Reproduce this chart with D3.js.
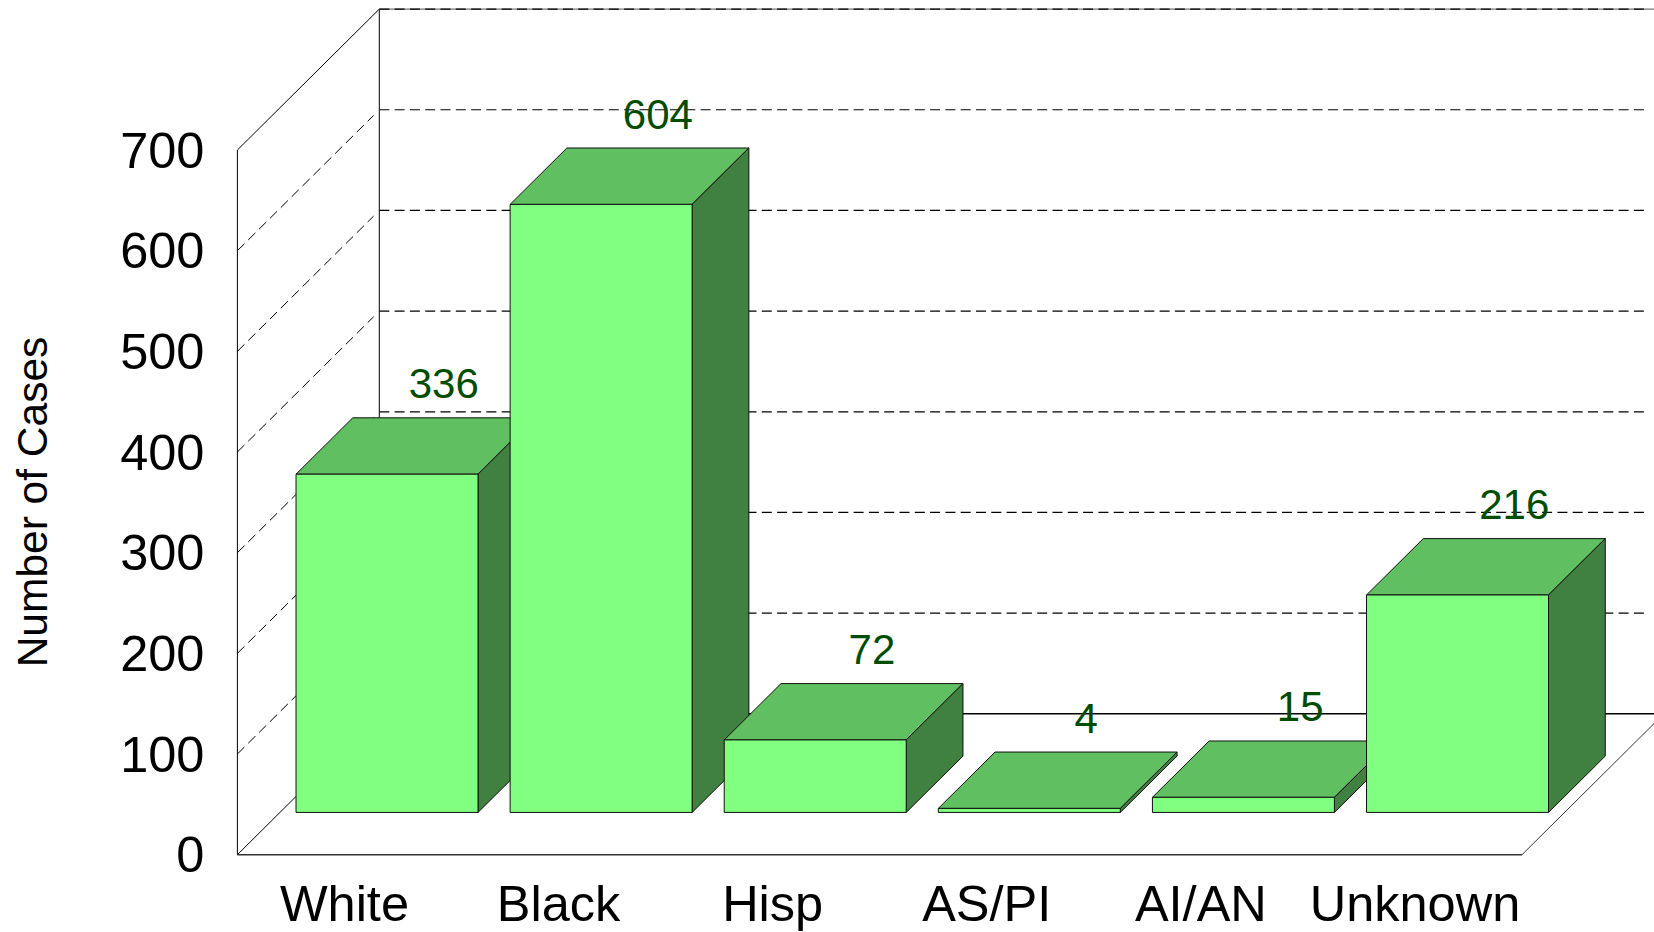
<!DOCTYPE html>
<html>
<head>
<meta charset="utf-8">
<title>Number of Cases</title>
<script src="https://cdn.jsdelivr.net/npm/d3@7"></script>
<style>
  body { margin: 0; background: #fff; }
  svg { display: block; }
  text { font-family: "Liberation Sans", Arial, sans-serif; }
</style>
</head>
<body>
<div id="chart"></div>
<script>
// chart data
var categories = ["White", "Black", "Hisp", "AS/PI", "AI/AN", "Unknown"];
var cases = [336, 604, 72, 4, 15, 216];
var yTicks = [0, 100, 200, 300, 400, 500, 600, 700];

var svgWidth = 1654;
var svgHeight = 932;

// front plane of the 3d box
var plotLeft = 237.4;
var plotRight = 1522;
var plotBottom = 854.7;
var plotTop = 150;

var svg = d3.select("#chart")
  .append("svg")
  .attr("width", svgWidth)
  .attr("height", svgHeight);

var xScale = d3.scaleBand()
  .domain(categories)
  .range([plotLeft, plotRight])
  .paddingInner(0.15)
  .paddingOuter(0.075);

var yScale = d3.scaleLinear()
  .domain([0, 700])
  .range([plotBottom, plotTop]);

// 0 = front of the floor, 1 = back wall
var depthX = d3.scaleLinear().domain([0, 1]).range([0, 141.9]);
var depthY = d3.scaleLinear().domain([0, 1]).range([0, 140.9]);

var barFront = 0.3;
var barBack = 0.7;

// screen position of a point given as pixel x, value y and depth
function project(x, value, depth) {
  return [x + depthX(depth), yScale(value) - depthY(depth)];
}

var line = d3.line();

//Walls and floor
var walls = svg.append("g").attr("fill", "none").attr("stroke", "#000");

walls.append("path")
  .attr("stroke-width", 1)
  .attr("d", line([project(plotLeft, 0, 0), project(plotLeft, 700, 0), project(plotLeft, 700, 1), project(plotLeft, 0, 1)]));

walls.append("path")
  .attr("stroke-width", 1)
  .attr("d", line([project(plotLeft, 0, 0), project(plotLeft, 0, 1)]));

walls.append("path")
  .attr("stroke-width", 1.4)
  .attr("stroke", "#333")
  .attr("d", line([project(plotLeft, 0, 0), project(plotRight, 0, 0)]));

walls.append("path")
  .attr("stroke-width", 0.8)
  .attr("d", line([project(plotRight, 0, 0), project(plotRight, 0, 1)]));

walls.append("path")
  .attr("stroke-width", 1.5)
  .attr("d", line([project(plotLeft, 0, 1), project(plotRight + 40, 0, 1)]));

// top of the back wall has a solid line under the dashes
walls.append("path")
  .attr("stroke-width", 1.2)
  .attr("stroke", "#777")
  .attr("d", line([project(plotLeft, 700, 1), project(plotRight + 40, 700, 1)]));

//Gridlines
var gridValues = yTicks.filter(d => d > 0);

svg.append("g").selectAll("path")
  .data(gridValues)
  .enter()
  .append("path")
  .attr("fill", "none")
  .attr("stroke", "#000")
  .attr("stroke-width", 1.2)
  .attr("stroke-dasharray", "10,5.3")
  .attr("d", d => line([project(plotLeft, d, 1), [1647, project(plotLeft, d, 1)[1]]]));

svg.append("g").selectAll("path")
  .data(gridValues.filter(d => d < 700))
  .enter()
  .append("path")
  .attr("fill", "none")
  .attr("stroke", "#000")
  .attr("stroke-width", 1)
  .attr("stroke-dasharray", "10,5.3")
  .attr("d", d => line([project(plotLeft, d, 0), project(plotLeft, d, 0.96)]));

//Bars, left to right so each one covers the one before
var bars = svg.append("g")
  .selectAll("g")
  .data(cases)
  .enter()
  .append("g")
  .attr("stroke", "#111")
  .attr("stroke-width", 1)
  .attr("stroke-linejoin", "round");

function barLeft(i) { return xScale(categories[i]); }
function barRight(i) { return xScale(categories[i]) + xScale.bandwidth(); }

// top
bars.append("path")
  .attr("fill", "#60BF60")
  .attr("d", (d, i) => line([
    project(barLeft(i), d, barFront), project(barRight(i), d, barFront),
    project(barRight(i), d, barBack), project(barLeft(i), d, barBack)
  ]) + "Z");

// right side
bars.append("path")
  .attr("fill", "#408040")
  .attr("d", (d, i) => line([
    project(barRight(i), 0, barFront), project(barRight(i), d, barFront),
    project(barRight(i), d, barBack), project(barRight(i), 0, barBack)
  ]) + "Z");

// front
bars.append("path")
  .attr("fill", "#80FF80")
  .attr("d", (d, i) => line([
    project(barLeft(i), 0, barFront), project(barRight(i), 0, barFront),
    project(barRight(i), d, barFront), project(barLeft(i), d, barFront)
  ]) + "Z");

//Value labels
svg.append("g").selectAll("text")
  .data(cases)
  .enter()
  .append("text")
  .attr("x", (d, i) => project(barLeft(i) + xScale.bandwidth() / 2, d, barBack)[0])
  .attr("y", (d, i) => project(barLeft(i), d, barBack)[1] - 19.5)
  .attr("text-anchor", "middle")
  .attr("font-size", "42px")
  .attr("fill", "#004D00")
  .text(d => d);

//Axes
var leftAxis = d3.axisLeft(yScale)
  .tickValues(yTicks)
  .tickSize(0)
  .tickPadding(33);

var yAxis = svg.append("g")
  .attr("transform", `translate(${plotLeft}, 0)`)
  .call(leftAxis);

var bottomAxis = d3.axisBottom(xScale)
  .tickSize(0)
  .tickPadding(30.4);

var xAxis = svg.append("g")
  .attr("transform", `translate(0, ${plotBottom})`)
  .call(bottomAxis);

[yAxis, xAxis].forEach(function (axis) {
  axis.select(".domain").remove();
  axis.selectAll("text")
    .attr("font-family", "Liberation Sans")
    .attr("font-size", "50.5px")
    .attr("fill", "#000");
});

yAxis.selectAll("text").attr("dy", "0.34em");

svg.append("text")
  .attr("transform", "translate(47, 502) rotate(-90)")
  .attr("text-anchor", "middle")
  .attr("font-size", "42.5px")
  .attr("fill", "#000")
  .text("Number of Cases");
</script>
</body>
</html>
